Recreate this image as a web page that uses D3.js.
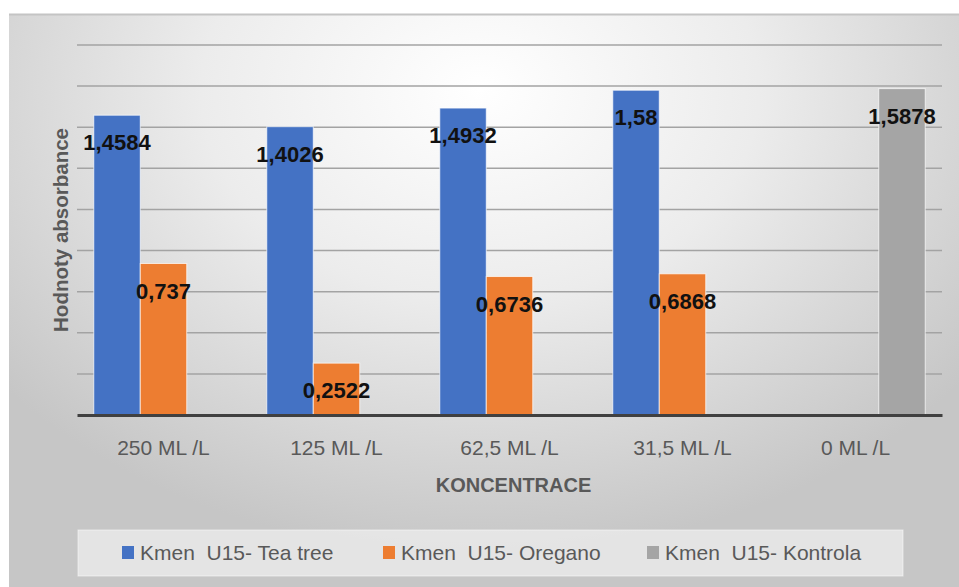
<!DOCTYPE html>
<html>
<head>
<meta charset="utf-8">
<script src="https://cdn.jsdelivr.net/npm/d3@7/dist/d3.min.js"></script>
<style>
  html, body { margin: 0; padding: 0; background: #ffffff; }
  svg { display: block; }
  text { font-family: "Liberation Sans", Arial, sans-serif; }
</style>
</head>
<body>
<svg id="chart" width="959" height="587"></svg>
<script>
// ---- data ----
const categories = ["250 ML /L", "125 ML /L", "62,5 ML /L", "31,5 ML /L", "0 ML /L"];
const seriesNames = ["Kmen  U15- Tea tree", "Kmen  U15- Oregano", "Kmen  U15- Kontrola"];
const teaTree = [1.4584, 1.4026, 1.4932, 1.58, null];
const oregano = [0.737, 0.2522, 0.6736, 0.6868, null];
const kontrola = [null, null, null, null, 1.5878];
const seriesColors = ["#4472C4", "#ED7D31", "#A5A5A5"];
const xTitle = "KONCENTRACE";
const yTitle = "Hodnoty absorbance";
const yMax = 1.8;

const seriesValues = [teaTree, oregano, kontrola];

const svg = d3.select("#chart");
const W = 959, H = 587;

// background
const defs = svg.append("defs");
const grad = defs.append("radialGradient")
  .attr("id", "bg").attr("gradientUnits", "userSpaceOnUse")
  .attr("cx", 480).attr("cy", 90).attr("r", 620)
  .attr("gradientTransform", "translate(480,90) scale(1,0.75) translate(-480,-90)");
grad.append("stop").attr("offset", "0").attr("stop-color", "#ffffff");
grad.append("stop").attr("offset", "0.45").attr("stop-color", "#ececec");
grad.append("stop").attr("offset", "1").attr("stop-color", "#c6c6c6");

svg.append("rect").attr("x", 9).attr("y", 14).attr("width", W - 9).attr("height", H - 14)
  .attr("fill", "url(#bg)");
svg.append("line").attr("x1", 9).attr("x2", W).attr("y1", 14.5).attr("y2", 14.5)
  .attr("stroke", "#c4c4c4").attr("stroke-width", 2);

// scales
const plot = { left: 77, right: 942, top: 45, bottom: 415 };
const x = d3.scaleBand().domain(categories).range([plot.left, plot.right])
  .paddingInner(0.194).paddingOuter(0.097);
const xs = d3.scaleBand().domain(d3.range(seriesNames.length)).range([0, x.bandwidth()]).padding(0);
const y = d3.scaleLinear().domain([0, yMax]).range([plot.bottom, plot.top]);

// gridlines
const ticks = y.ticks(9).filter(t => t > 0);
svg.append("g").selectAll("line").data(ticks).join("line")
  .attr("x1", plot.left).attr("x2", plot.right)
  .attr("y1", d => y(d)).attr("y2", d => y(d))
  .attr("stroke", "#a3a3a3").attr("stroke-width", 1.5);

// bars
const barData = [];
seriesValues.forEach((vals, si) => {
  vals.forEach((v, ci) => {
    if (v !== null) barData.push({ si, cat: categories[ci], v });
  });
});

svg.append("g").selectAll("rect").data(barData).join("rect")
  .attr("x", d => x(d.cat) + xs(d.si))
  .attr("y", d => y(d.v))
  .attr("width", xs.bandwidth())
  .attr("height", d => y(0) - y(d.v))
  .attr("fill", d => seriesColors[d.si])
  .attr("stroke", "rgba(255,255,255,0.7)").attr("stroke-width", 1);

// baseline axis
const xAxis = d3.axisBottom(x).tickSize(0).tickPadding(0);
const gx = svg.append("g").attr("transform", `translate(0,${plot.bottom})`).call(xAxis);
gx.select(".domain").attr("stroke", "#404040").attr("stroke-width", 3);
gx.selectAll("text")
  .attr("dy", null).attr("y", 40)
  .attr("fill", "#595959").attr("font-size", 21)
  .attr("font-family", "'Liberation Sans', Arial, sans-serif");

// data labels
const fmt = v => String(v).replace(".", ",");
svg.append("g").selectAll("text").data(barData).join("text")
  .attr("x", d => x(d.cat) + xs(d.si) + xs.bandwidth() / 2)
  .attr("y", d => y(d.v) + 35)
  .attr("text-anchor", "middle")
  .attr("font-size", 22).attr("font-weight", "bold").attr("fill", "#111111")
  .text(d => fmt(d.v));

// axis titles
svg.append("text").attr("x", (plot.left + plot.right) / 2 + 4).attr("y", 492)
  .attr("text-anchor", "middle").attr("font-size", 20).attr("font-weight", "bold")
  .attr("fill", "#595959").text(xTitle);

svg.append("text")
  .attr("transform", `translate(68,${(plot.top + plot.bottom) / 2}) rotate(-90)`)
  .attr("text-anchor", "middle").attr("font-size", 20.5).attr("font-weight", "bold")
  .attr("fill", "#595959").text(yTitle);

// legend
const lg = svg.append("g");
lg.append("rect").attr("x", 78).attr("y", 530).attr("width", 825).attr("height", 46)
  .attr("fill", "#f4f4f4").attr("fill-opacity", 0.65)
  .attr("stroke", "#fafafa").attr("stroke-opacity", 0.6);
const legendX = [122, 383, 647];
const items = lg.selectAll("g.item").data(seriesNames).join("g").attr("class", "item")
  .attr("transform", (d, i) => `translate(${legendX[i]},0)`);
items.append("rect").attr("x", 0).attr("y", 546).attr("width", 12).attr("height", 13)
  .attr("fill", (d, i) => seriesColors[i]);
items.append("text").attr("x", 18).attr("y", 560)
  .attr("font-size", 21).attr("fill", "#595959")
  .style("white-space", "pre").attr("xml:space", "preserve")
  .text(d => d);
</script>
</body>
</html>
